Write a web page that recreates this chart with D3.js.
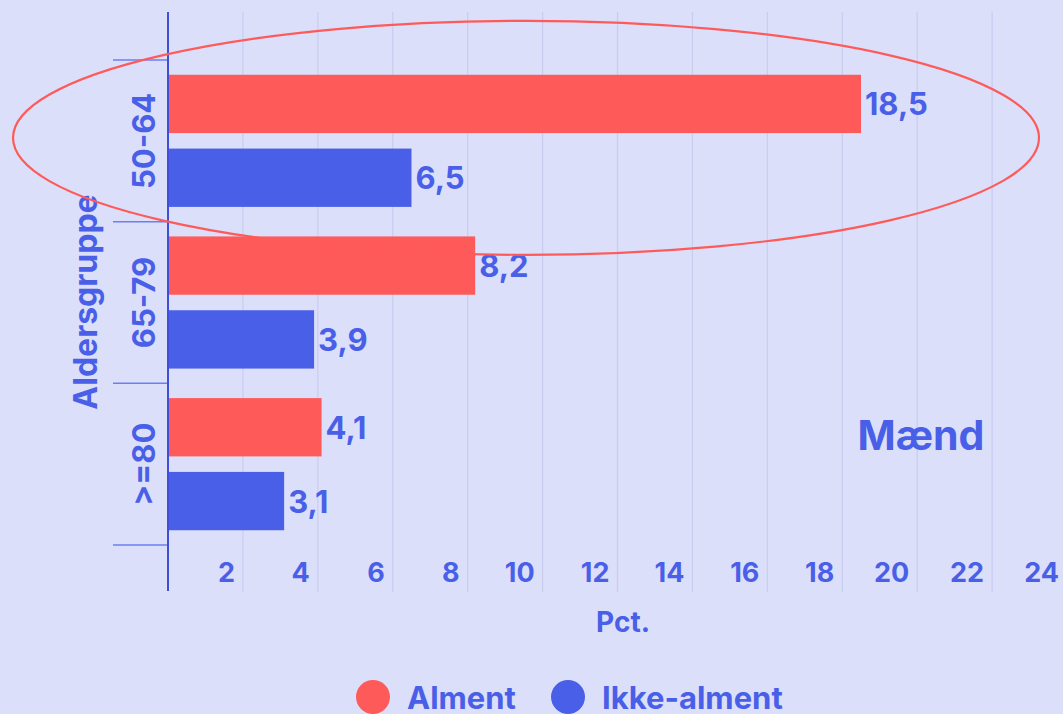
<!DOCTYPE html>
<html>
<head>
<meta charset="utf-8">
<script src="https://cdn.jsdelivr.net/npm/d3@7"></script>
<style>
  html, body { margin: 0; padding: 0; background: #dbdff9; }
  svg { display: block; font-family: Inter, "Noto Sans", sans-serif; font-weight: 700; }
</style>
</head>
<body>
<div id="chart"></div>
<script>
// Aldersgrupper og serier
var groups = ["50-64", "65-79", ">=80"];
var series = ["Alment", "Ikke-alment"];
var alment = [18.5, 8.2, 4.1];
var ikkeAlment = [6.5, 3.9, 3.1];
var xTicks = [2, 4, 6, 8, 10, 12, 14, 16, 18, 20, 22, 24];

var W = 1063, H = 714;
var red = "#ff5a5a", blue = "#4a5fe8", grid = "#c8cdf0";

var svg = d3.select("#chart").append("svg")
  .attr("width", W).attr("height", H);

svg.append("rect").attr("width", W).attr("height", H).attr("fill", "#dbdff9");

// scales
var x = d3.scaleLinear().domain([0, 24]).range([168, 168 + 24 * 37.46]);
var y0 = d3.scaleBand().domain(groups).range([60, 545]);
var y1 = d3.scaleBand().domain(series).range([0, y0.bandwidth()])
  .paddingInner(0.21).paddingOuter(0.2);
var color = d3.scaleOrdinal().domain(series).range([red, blue]);

// gridlines
svg.append("g").selectAll("line")
  .data(xTicks)
  .enter().append("line")
  .attr("x1", function (d) { return x(d); })
  .attr("x2", function (d) { return x(d); })
  .attr("y1", 12).attr("y2", 592)
  .attr("stroke", grid).attr("stroke-width", 1.2);

// x tick labels (sit left of their gridline)
svg.append("g").selectAll("text")
  .data(xTicks)
  .enter().append("text")
  .attr("x", function (d) { return x(d) - 8; })
  .attr("y", 572)
  .attr("text-anchor", "end")
  .attr("dominant-baseline", "central")
  .attr("font-size", 27)
  .attr("fill", blue)
  .text(function (d) { return d; });

// y axis line + band ticks
var yEdges = groups.map(function (g) { return y0(g); }).concat([y0(groups[groups.length - 1]) + y0.bandwidth()]);
svg.append("g").selectAll("line")
  .data(yEdges)
  .enter().append("line")
  .attr("x1", 113).attr("x2", 168)
  .attr("y1", function (d) { return d; })
  .attr("y2", function (d) { return d; })
  .attr("stroke", "#6d7ff0").attr("stroke-width", 1.5);

svg.append("line")
  .attr("x1", 168).attr("x2", 168)
  .attr("y1", 12).attr("y2", 591)
  .attr("stroke", "#3f4fd8").attr("stroke-width", 2);

// group labels
svg.append("g").selectAll("text")
  .data(groups)
  .enter().append("text")
  .attr("transform", function (d) {
    return "translate(143," + (y0(d) + y0.bandwidth() / 2) + ") rotate(-90)";
  })
  .attr("text-anchor", "middle")
  .attr("dominant-baseline", "central")
  .attr("font-size", 31)
  .attr("fill", blue)
  .text(function (d) { return d; });

// bars
var rows = groups.map(function (g, i) {
  return { group: g, values: [
    { key: "Alment", value: alment[i] },
    { key: "Ikke-alment", value: ikkeAlment[i] }
  ] };
});

var gg = svg.append("g").selectAll("g")
  .data(rows)
  .enter().append("g")
  .attr("transform", function (d) { return "translate(0," + y0(d.group) + ")"; });

gg.selectAll("rect")
  .data(function (d) { return d.values; })
  .enter().append("rect")
  .attr("x", x(0) + 1)
  .attr("y", function (d) { return y1(d.key); })
  .attr("width", function (d) { return x(d.value) - x(0) - 1; })
  .attr("height", y1.bandwidth())
  .attr("fill", function (d) { return color(d.key); });

gg.selectAll("text")
  .data(function (d) { return d.values; })
  .enter().append("text")
  .attr("x", function (d) { return x(d.value) + 4; })
  .attr("y", function (d) { return y1(d.key) + y1.bandwidth() / 2; })
  .attr("dominant-baseline", "central")
  .attr("font-size", 31)
  .attr("fill", blue)
  .text(function (d) { return String(d.value).replace(".", ","); });

// axis titles
svg.append("text")
  .attr("transform", "translate(85,302) rotate(-90)")
  .attr("text-anchor", "middle")
  .attr("dominant-baseline", "central")
  .attr("font-size", 32)
  .attr("fill", blue)
  .text("Aldersgruppe");

svg.append("text")
  .attr("x", 623).attr("y", 622)
  .attr("text-anchor", "middle")
  .attr("dominant-baseline", "central")
  .attr("font-size", 28)
  .attr("fill", blue)
  .text("Pct.");

svg.append("text")
  .attr("x", 921).attr("y", 435)
  .attr("text-anchor", "middle")
  .attr("dominant-baseline", "central")
  .attr("font-size", 41)
  .attr("fill", blue)
  .text("Mænd");

// legend
var legend = svg.append("g").selectAll("g")
  .data(series)
  .enter().append("g")
  .attr("transform", function (d, i) { return "translate(" + [373, 568][i] + ",697)"; });
legend.append("circle").attr("r", 17).attr("fill", function (d) { return color(d); });
legend.append("text")
  .attr("x", 34).attr("y", 0)
  .attr("dominant-baseline", "central")
  .attr("font-size", 31)
  .attr("fill", blue)
  .text(function (d) { return d; });

// annotation ellipse around 50-64
svg.append("ellipse")
  .attr("cx", 526).attr("cy", y0("50-64") + y0.bandwidth() / 2 - 3)
  .attr("rx", 513).attr("ry", 117)
  .attr("fill", "none")
  .attr("stroke", red).attr("stroke-width", 2.2);
</script>
</body>
</html>
